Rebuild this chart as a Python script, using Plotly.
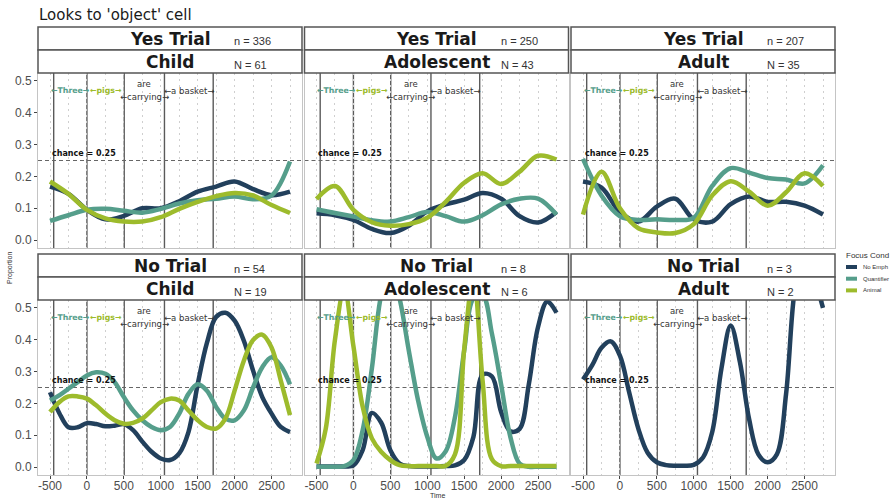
import plotly.graph_objects as go

# ---------------------------------------------------------------- data
time_coarse = [-500, -250, 0, 250, 500, 750, 1000, 1250, 1500, 1750, 2000, 2250, 2500, 2750]
time_fine = [-500, -375, -250, -125, 0, 125, 250, 375, 500, 625, 750, 875, 1000, 1125,
             1250, 1375, 1500, 1625, 1750, 1875, 2000, 2125, 2250, 2375, 2500, 2625, 2750]

# Yes trials (coarse time grid)
yes_child_no_emph = [0.168, 0.145, 0.095, 0.065, 0.076, 0.100, 0.100, 0.122, 0.152, 0.168, 0.184, 0.160, 0.141, 0.152]
yes_child_quant = [0.060, 0.078, 0.095, 0.098, 0.092, 0.086, 0.098, 0.115, 0.125, 0.130, 0.137, 0.128, 0.140, 0.247]
yes_child_animal = [0.184, 0.145, 0.095, 0.068, 0.058, 0.058, 0.072, 0.098, 0.120, 0.138, 0.148, 0.140, 0.110, 0.085]

yes_adol_no_emph = [0.084, 0.078, 0.063, 0.035, 0.022, 0.045, 0.090, 0.112, 0.127, 0.148, 0.130, 0.075, 0.055, 0.088]
yes_adol_quant = [0.097, 0.085, 0.074, 0.062, 0.058, 0.072, 0.088, 0.075, 0.058, 0.078, 0.112, 0.130, 0.130, 0.080]
yes_adol_animal = [0.129, 0.170, 0.095, 0.056, 0.045, 0.050, 0.070, 0.120, 0.180, 0.210, 0.176, 0.215, 0.265, 0.253]

yes_adult_no_emph = [0.184, 0.165, 0.088, 0.058, 0.105, 0.130, 0.065, 0.058, 0.113, 0.137, 0.120, 0.120, 0.108, 0.080]
yes_adult_quant = [0.255, 0.140, 0.075, 0.063, 0.065, 0.063, 0.070, 0.170, 0.226, 0.212, 0.195, 0.190, 0.178, 0.235]
yes_adult_animal = [0.080, 0.215, 0.100, 0.037, 0.024, 0.022, 0.050, 0.140, 0.185, 0.152, 0.108, 0.150, 0.210, 0.170]

# No trials (fine time grid)
no_child_no_emph = [0.235, 0.170, 0.125, 0.125, 0.138, 0.135, 0.128, 0.130, 0.135, 0.116, 0.080, 0.048, 0.027,
                    0.022, 0.043, 0.110, 0.260, 0.390, 0.472, 0.485, 0.460, 0.397, 0.303, 0.220, 0.168, 0.126, 0.110]
no_child_quant = [0.209, 0.225, 0.246, 0.267, 0.288, 0.298, 0.293, 0.267, 0.220, 0.178, 0.147, 0.126, 0.116,
                  0.126, 0.168, 0.230, 0.260, 0.240, 0.189, 0.152, 0.147, 0.178, 0.250, 0.314, 0.345, 0.319, 0.260]
no_child_animal = [0.173, 0.204, 0.222, 0.222, 0.215, 0.194, 0.168, 0.147, 0.136, 0.139, 0.152, 0.178, 0.204,
                   0.215, 0.209, 0.178, 0.147, 0.126, 0.121, 0.152, 0.240, 0.334, 0.399, 0.416, 0.376, 0.272, 0.163]

no_adol_no_emph = [0.002, 0.002, 0.002, 0.002, 0.005, 0.053, 0.170, 0.140, 0.053, 0.011, 0.003, 0.002, 0.002,
                   0.002, 0.003, 0.005, 0.022, 0.095, 0.290, 0.285, 0.173, 0.112, 0.120, 0.260, 0.440, 0.520, 0.485]
no_adol_quant = [0.001, 0.001, 0.001, 0.003, 0.022, 0.116, 0.310, 0.540, 0.630, 0.530, 0.366, 0.210, 0.095,
                 0.027, 0.050, 0.157, 0.366, 0.530, 0.540, 0.420, 0.260, 0.095, 0.011, 0.001, 0.001, 0.001, 0.001]
no_adol_animal = [0.011, 0.120, 0.400, 0.560, 0.380, 0.190, 0.090, 0.048, 0.022, 0.006, 0.003, 0.003, 0.003,
                  0.003, 0.004, 0.040, 0.370, 0.600, 0.270, 0.025, 0.003, 0.003, 0.003, 0.003, 0.003, 0.003, 0.003]

no_adult_no_emph = [0.275, 0.320, 0.375, 0.395, 0.350, 0.235, 0.120, 0.045, 0.015, 0.006, 0.004, 0.004, 0.007,
                    0.030, 0.110, 0.310, 0.445, 0.330, 0.150, 0.040, 0.015, 0.040, 0.230, 0.570, 0.680, 0.600, 0.500]

trial_labels = ["Yes Trial", "Yes Trial", "Yes Trial", "No Trial", "No Trial", "No Trial"]
trial_counts = ["n = 336", "n = 250", "n = 207", "n = 54", "n = 8", "n = 3"]
age_labels = ["Child", "Adolescent", "Adult", "Child", "Adolescent", "Adult"]
age_counts = ["N = 61", "N = 43", "N = 35", "N = 19", "N = 6", "N = 2"]

cond_names = ["No Emph", "Quantifier", "Animal"]
cond_colors = ["#22405c", "#559e8b", "#9dbb2c"]

word_onsets = [-450, 0, 505, 1050, 1710]
chance_level = 0.25

y_ticks = [0.0, 0.1, 0.2, 0.3, 0.4, 0.5]
x_ticks = [-500, 0, 500, 1000, 1500, 2000, 2500]

panel_series = [
    (time_coarse, [yes_child_no_emph, yes_child_quant, yes_child_animal]),
    (time_coarse, [yes_adol_no_emph, yes_adol_quant, yes_adol_animal]),
    (time_coarse, [yes_adult_no_emph, yes_adult_quant, yes_adult_animal]),
    (time_fine, [no_child_no_emph, no_child_quant, no_child_animal]),
    (time_fine, [no_adol_no_emph, no_adol_quant, no_adol_animal]),
    (time_fine, [no_adult_no_emph, None, None]),
]

# ---------------------------------------------------------------- layout geometry (pixels)
W, H = 894, 500
col_left = [38, 304.5, 571]
col_w = 264
plot_rows = [(73, 248), (300, 475)]
strip_h = 23
x_range = [-662.5, 2912.5]
y_range = [-0.025, 0.525]

SANS = "DejaVu Sans"
ARIAL = "Liberation Sans"
GRID = "#cfcfcf"


def fx(p):
    return p / W


def fy(p):
    return 1 - p / H


fig = go.Figure()
layout = dict(
    width=W, height=H, margin=dict(l=0, r=0, t=0, b=0),
    paper_bgcolor="white", plot_bgcolor="white", showlegend=False,
)
shapes = []
annotations = []

for k in range(6):
    r, c = divmod(k, 3)
    idx = "" if k == 0 else str(k + 1)
    xa, ya = "x" + idx, "y" + idx
    top, bot = plot_rows[r]
    left = col_left[c]
    right = left + col_w

    layout["xaxis" + idx] = dict(
        domain=[fx(left), fx(right)], anchor=ya, range=x_range,
        tickvals=x_ticks, ticktext=[str(v) for v in x_ticks],
        showticklabels=(r == 1), ticks="outside" if r == 1 else "",
        ticklen=3, tickcolor="#444444", ticklabelstandoff=-3,
        tickfont=dict(family=ARIAL, size=12, color="#4d4d4d"),
        showgrid=True, gridcolor=GRID, griddash="2px,4px", gridwidth=1,
        minor=dict(dtick=250, tick0=-500, showgrid=True, gridcolor=GRID,
                   griddash="2px,4px", gridwidth=1),
        showline=True, mirror=True, linecolor="#c4c4c4", linewidth=1,
        zeroline=False, fixedrange=True,
    )
    layout["yaxis" + idx] = dict(
        domain=[fy(bot), fy(top)], anchor=xa, range=y_range,
        tickvals=y_ticks, ticktext=[f"{v:.1f}" for v in y_ticks],
        showticklabels=(c == 0), ticks="outside" if c == 0 else "",
        ticklen=3, tickcolor="#444444",
        tickfont=dict(family=ARIAL, size=12, color="#4d4d4d"),
        showgrid=False, zeroline=False,
        showline=True, mirror=True, linecolor="#c4c4c4", linewidth=1,
        fixedrange=True,
    )

    # word boundary markers
    for t in word_onsets:
        shapes.append(dict(type="line", xref=xa, yref=ya + " domain", x0=t, x1=t, y0=0, y1=1,
                           line=dict(color="#5a5a5a", width=1.4), layer="below"))
    # chance line
    shapes.append(dict(type="line", xref=xa + " domain", yref=ya, x0=0, x1=1,
                       y0=chance_level, y1=chance_level,
                       line=dict(color="#666666", width=1, dash="4px,3px"), layer="below"))

    # series
    times, series = panel_series[k]
    for vals, col in zip(series, cond_colors):
        if vals is None:
            continue
        fig.add_trace(go.Scatter(
            x=times, y=vals, mode="lines", xaxis=xa, yaxis=ya,
            line=dict(color=col, width=4.5, shape="spline", smoothing=1.0),
            hoverinfo="skip", showlegend=False,
        ))

    # in-panel labels
    def note(x, y, text, color, size=8.5, bold=False, xanchor="center"):
        annotations.append(dict(
            xref=xa, yref=ya, x=x, y=y, text=f"<b>{text}</b>" if bold else text,
            showarrow=False, xanchor=xanchor, yanchor="middle",
            font=dict(family=SANS, size=size, color=color)))

    note(-228, 0.47, "←Three→", cond_colors[1], size=7.8, bold=True)
    note(255, 0.47, "←pigs→", cond_colors[2], size=7.8, bold=True)
    note(778, 0.49, "are", "#333333")
    note(778, 0.449, "←carrying→", "#333333")
    note(1380, 0.47, "←a basket→", "#333333")
    note(-505, 0.273, "chance = 0.25", "#111111", size=8, bold=True, xanchor="left")

    # strips
    s1_top = top - 2 * strip_h
    s2_top = top - strip_h
    for st in (s1_top, s2_top):
        shapes.append(dict(type="rect", xref="paper", yref="paper",
                           x0=fx(left), x1=fx(right), y0=fy(st + strip_h), y1=fy(st),
                           fillcolor="white", line=dict(color="#555555", width=1.5)))
    cx = (left + right) / 2
    annotations.append(dict(xref="paper", yref="paper", x=fx(cx), y=fy(s1_top + 12),
                            text=f"<b>{trial_labels[k]}</b>", showarrow=False,
                            xanchor="center", yanchor="middle",
                            font=dict(family=SANS, size=17, color="#1a1a1a")))
    annotations.append(dict(xref="paper", yref="paper", x=fx(cx + 62), y=fy(s1_top + 14.5),
                            text=trial_counts[k], showarrow=False,
                            xanchor="left", yanchor="middle",
                            font=dict(family=ARIAL, size=11, color="#333333")))
    annotations.append(dict(xref="paper", yref="paper", x=fx(cx), y=fy(s2_top + 12),
                            text=f"<b>{age_labels[k]}</b>", showarrow=False,
                            xanchor="center", yanchor="middle",
                            font=dict(family=SANS, size=17, color="#1a1a1a")))
    annotations.append(dict(xref="paper", yref="paper", x=fx(cx + 62), y=fy(s2_top + 14.5),
                            text=age_counts[k], showarrow=False,
                            xanchor="left", yanchor="middle",
                            font=dict(family=ARIAL, size=11, color="#333333")))

# title and axis titles
annotations.append(dict(xref="paper", yref="paper", x=fx(37), y=fy(15),
                        text="Looks to 'object' cell", showarrow=False,
                        xanchor="left", yanchor="middle",
                        font=dict(family=SANS, size=15, color="#1a1a1a")))
annotations.append(dict(xref="paper", yref="paper", x=fx(10), y=fy(268),
                        text="Proportion", showarrow=False, textangle=-90,
                        xanchor="center", yanchor="middle",
                        font=dict(family=ARIAL, size=7, color="#333333")))
annotations.append(dict(xref="paper", yref="paper", x=fx(437), y=fy(495),
                        text="Time", showarrow=False,
                        xanchor="center", yanchor="middle",
                        font=dict(family=ARIAL, size=7, color="#333333")))

# legend
annotations.append(dict(xref="paper", yref="paper", x=fx(844), y=fy(255),
                        text="Focus Cond", showarrow=False,
                        xanchor="left", yanchor="middle",
                        font=dict(family=ARIAL, size=8, color="#333333")))
for i, (name, col) in enumerate(zip(cond_names, cond_colors)):
    yc = 267 + 11.7 * i
    shapes.append(dict(type="rect", xref="paper", yref="paper",
                       x0=fx(846), x1=fx(857), y0=fy(yc + 2), y1=fy(yc - 2),
                       fillcolor=col, line=dict(width=0)))
    annotations.append(dict(xref="paper", yref="paper", x=fx(861), y=fy(yc),
                            text=name, showarrow=False, xanchor="left", yanchor="middle",
                            font=dict(family=ARIAL, size=6, color="#333333")))

layout["shapes"] = shapes
layout["annotations"] = annotations
fig.update_layout(**layout)
fig.write_html("out.html")
